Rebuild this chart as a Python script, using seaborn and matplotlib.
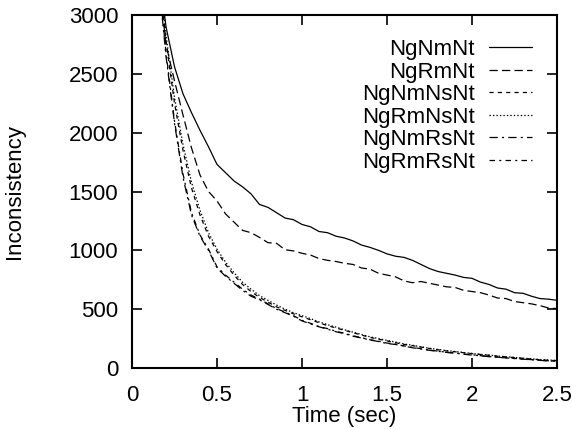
import numpy as np
import pandas as pd
import matplotlib
matplotlib.use("Agg")
import matplotlib.pyplot as plt
import seaborn as sns
from matplotlib.ticker import FixedLocator, FixedFormatter

# ---------------- data ----------------
time_sec = [0.15, 0.20, 0.25, 0.30, 0.35, 0.40, 0.45, 0.50, 0.55, 0.60,
            0.65, 0.70, 0.75, 0.80, 0.85, 0.90, 0.95, 1.00, 1.05, 1.10,
            1.15, 1.20, 1.25, 1.30, 1.35, 1.40, 1.45, 1.50, 1.55, 1.60,
            1.65, 1.70, 1.75, 1.80, 1.85, 1.90, 1.95, 2.00, 2.05, 2.10,
            2.15, 2.20, 2.25, 2.30, 2.35, 2.40, 2.45, 2.50]

ngnmnt = [3500, 2900, 2560, 2330, 2170, 2020, 1880, 1730, 1660, 1590,
          1540, 1480, 1390, 1365, 1320, 1275, 1260, 1220, 1200, 1160,
          1150, 1120, 1105, 1080, 1045, 1025, 1000, 970, 950, 940,
          915, 880, 845, 820, 805, 790, 770, 762, 730, 710,
          680, 670, 640, 635, 610, 590, 585, 575]

ngrmnt = [3400, 2750, 2440, 2150, 1870, 1640, 1500, 1420, 1310, 1240,
          1170, 1150, 1110, 1065, 1060, 1005, 995, 975, 960, 930,
          915, 905, 890, 880, 850, 840, 805, 790, 775, 740,
          725, 735, 720, 705, 690, 685, 660, 650, 640, 620,
          595, 590, 565, 555, 545, 530, 510, 505]

ngnmnsnt = [3500, 2780, 2250, 1850, 1530, 1300, 1120, 990, 880, 790,
            710, 650, 600, 560, 520, 490, 460, 435, 410, 385,
            360, 340, 320, 300, 280, 260, 245, 230, 215, 200,
            190, 178, 165, 155, 145, 138, 130, 122, 115, 108,
            100, 95, 88, 82, 76, 70, 66, 62]

ngrmnsnt = [3550, 2830, 2300, 1900, 1580, 1340, 1150, 1010, 900, 810,
            730, 670, 615, 575, 535, 500, 470, 445, 420, 392,
            368, 348, 325, 305, 285, 265, 250, 235, 220, 205,
            193, 180, 168, 158, 148, 140, 132, 124, 116, 110,
            102, 96, 90, 84, 78, 72, 68, 64]

ngnmrsnt = [3400, 2650, 2080, 1620, 1300, 1120, 1000, 850, 780, 720,
            660, 610, 580, 540, 500, 470, 440, 400, 375, 350,
            330, 308, 292, 270, 255, 238, 225, 208, 200, 186,
            172, 162, 150, 142, 132, 126, 117, 110, 104, 96,
            90, 86, 80, 75, 70, 65, 60, 55]

ngrmrsnt = [3420, 2680, 2100, 1650, 1320, 1130, 1010, 860, 790, 730,
            670, 620, 585, 545, 505, 475, 445, 405, 380, 352,
            335, 312, 295, 274, 258, 240, 228, 212, 202, 188,
            175, 164, 152, 144, 134, 128, 119, 112, 105, 98,
            92, 87, 82, 76, 71, 66, 61, 57]

series_names = ["NgNmNt", "NgRmNt", "NgNmNsNt", "NgRmNsNt", "NgNmRsNt", "NgRmRsNt"]
series_values = [ngnmnt, ngrmnt, ngnmnsnt, ngrmnsnt, ngnmrsnt, ngrmrsnt]

x_ticks = [0, 0.5, 1, 1.5, 2, 2.5]
x_tick_labels = ["0", "0.5", "1", "1.5", "2", "2.5"]
y_ticks = [0, 500, 1000, 1500, 2000, 2500, 3000]
y_tick_labels = ["0", "500", "1000", "1500", "2000", "2500", "3000"]

# ---------------- table ----------------
df = pd.DataFrame({
    "Time (sec)": np.tile(time_sec, len(series_names)),
    "Inconsistency": np.concatenate([np.asarray(v, float) for v in series_values]),
    "series": np.repeat(series_names, len(time_sec)),
})

# ---------------- style ----------------
sns.set_style("ticks")
plt.rcParams["font.family"] = ["Liberation Sans", "DejaVu Sans"]
plt.rcParams["lines.scale_dashes"] = False
plt.rcParams["text.color"] = "black"
plt.rcParams["axes.labelcolor"] = "black"

FS = 16

dash_map = {
    "NgNmNt": "",
    "NgRmNt": (6, 3),
    "NgNmNsNt": (3, 3),
    "NgRmNsNt": (1, 1.5),
    "NgNmRsNt": (6, 3, 1.5, 3),
    "NgRmRsNt": (4, 3, 1.5, 3),
}

fig = plt.figure(figsize=(5.72, 4.29), dpi=100)
ax = fig.add_axes([132 / 572, 61 / 429, 425 / 572, 353 / 429])

sns.lineplot(data=df, x="Time (sec)", y="Inconsistency", hue="series",
             style="series", hue_order=series_names, style_order=series_names,
             palette=["black"] * 6, dashes=dash_map, linewidth=0.9,
             legend=False, ax=ax, estimator=None)

ax.set_xlim(0, 2.5)
ax.set_ylim(0, 3000)
ax.xaxis.set_major_locator(FixedLocator(x_ticks))
ax.xaxis.set_major_formatter(FixedFormatter(x_tick_labels))
ax.yaxis.set_major_locator(FixedLocator(y_ticks))
ax.yaxis.set_major_formatter(FixedFormatter(y_tick_labels))

ax.tick_params(direction="in", length=7, width=1.2, top=True, right=True,
               labelsize=FS, colors="black")
ax.tick_params(axis="x", pad=12)
ax.tick_params(axis="y", pad=10)
for s in ax.spines.values():
    s.set_linewidth(1.5)
    s.set_color("black")

ax.set_xlabel("Time (sec)", fontsize=FS, labelpad=0)
ax.set_ylabel("Inconsistency", fontsize=FS, labelpad=31)

handles = ax.get_lines()[:6]
leg = ax.legend(handles, series_names, loc="upper right", bbox_to_anchor=(0.941, 0.932),
                frameon=False, markerfirst=False, handlelength=1.95, handletextpad=0.62,
                labelspacing=0.07, borderpad=0, borderaxespad=0, fontsize=FS)
for t in leg.get_texts():
    t.set_color("black")

fig.savefig("out.png", dpi=100)
